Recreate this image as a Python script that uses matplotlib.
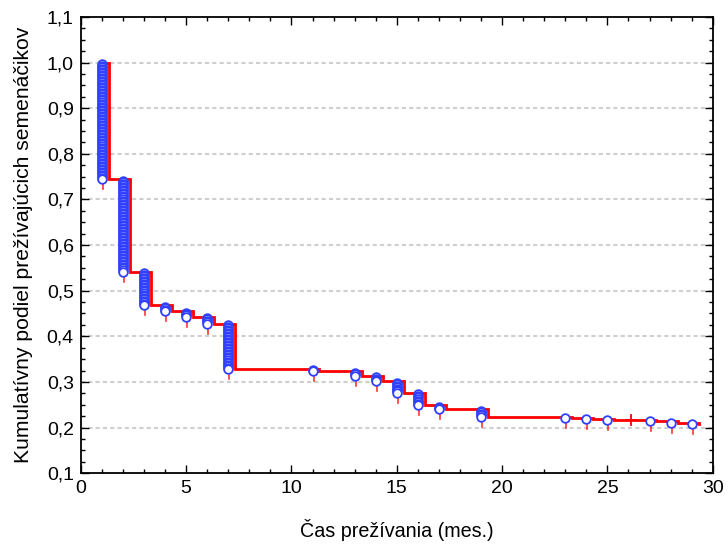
import numpy as np
import matplotlib
matplotlib.use("Agg")
import matplotlib.pyplot as plt
from matplotlib.ticker import MultipleLocator, FuncFormatter

plt.rcParams['font.family'] = ['Liberation Sans', 'DejaVu Sans']

# Event times (months), Kaplan-Meier survival after each event, deaths per event
times = [1, 2, 3, 4, 5, 6, 7, 11, 13, 14, 15, 16, 17, 19, 23, 24, 25, 27, 28, 29]
survival = [0.744, 0.542, 0.468, 0.455, 0.443, 0.428, 0.328, 0.323, 0.313, 0.301,
            0.276, 0.249, 0.240, 0.224, 0.221, 0.219, 0.217, 0.214, 0.211, 0.208]
deaths = [77, 61, 22, 4, 4, 5, 30, 2, 3, 4, 8, 8, 3, 5, 1, 1, 1, 1, 1, 1]

# Censored observations
censor_times = [26.1]
censor_survival = [0.217]

x_ticks = [0, 5, 10, 15, 20, 25, 30]
y_ticks = [0.1, 0.2, 0.3, 0.4, 0.5, 0.6, 0.7, 0.8, 0.9, 1.0, 1.1]

red = '#ff0000'
blue = '#3040ff'

fig = plt.figure(figsize=(7.28, 5.47), dpi=100)
ax = fig.add_axes([0.111, 0.135, 0.868, 0.834])

ax.set_xlim(0, 30)
ax.set_ylim(0.1, 1.1)

# Dotted horizontal grid
for yv in y_ticks[1:-1]:
    ax.axhline(yv, color='#cfcfcf', lw=1.5, ls=(0, (2, 1.5)), zorder=0)

# Step line of cumulative survival
shift = 0.33
line_x = [times[0] + 0.15] + [t + shift for t in times]
line_y = [1.0] + survival
ax.plot(line_x, line_y, drawstyle='steps-post', color=red, lw=2.0,
        solid_joinstyle='miter', zorder=2)

# One circle per death, stacked between the levels before and after the event
prev = 1.0
for t, s, d in zip(times, survival, deaths):
    step = (prev - s) / d
    ys = [prev - step * (k + 1) for k in range(d)]
    ax.plot([t] * d, ys, ls='none', marker='o', ms=6.2, mfc='white',
            mec=blue, mew=1.3, zorder=4)
    # small tick below each event
    ax.plot([t + 0.05, t + 0.05], [s - 0.008, s - 0.022], color=red,
            lw=1.2, alpha=0.8, zorder=3)
    prev = s

# Censored marks
ax.plot(censor_times, censor_survival, ls='none', marker='+', ms=9,
        mec=red, mew=1.3, zorder=3)

# Axes styling
ax.xaxis.set_minor_locator(MultipleLocator(1))
ax.yaxis.set_minor_locator(MultipleLocator(0.025))
ax.set_xticks(x_ticks)
ax.set_yticks(y_ticks)
ax.xaxis.set_major_formatter(FuncFormatter(lambda v, p: f"{v:g}"))
ax.yaxis.set_major_formatter(FuncFormatter(lambda v, p: f"{v:.1f}".replace('.', ',')))

ax.tick_params(which='both', direction='in', top=True, right=True,
               labeltop=False, labelright=False, width=1.0, color='black')
ax.tick_params(which='major', length=6, labelsize=14, pad=5)
ax.tick_params(which='minor', length=3)

for sp in ax.spines.values():
    sp.set_linewidth(1.3)

ax.set_xlabel('Čas prežívania (mes.)', fontsize=14.2, labelpad=16)
ax.set_ylabel('Kumulatívny podiel prežívajúcich semenáčikov', fontsize=15.2, labelpad=10)

fig.savefig('out.png', dpi=100)
